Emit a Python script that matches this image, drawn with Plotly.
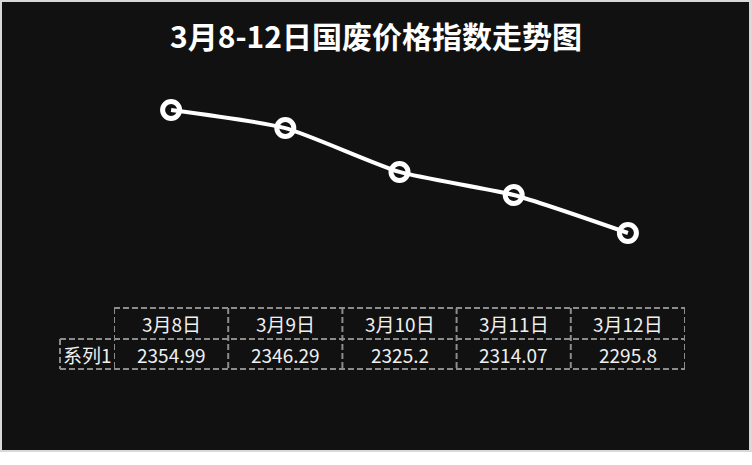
import plotly.graph_objects as go

# ---- data ----
categories = ["3月8日", "3月9日", "3月10日", "3月11日", "3月12日"]
series_name = "系列1"
values = [2354.99, 2346.29, 2325.2, 2314.07, 2295.8]
value_labels = ["2354.99", "2346.29", "2325.2", "2314.07", "2295.8"]
title_text = "3月8-12日国废价格指数走势图"

W, H = 752, 465
FONT = "Noto Sans CJK SC, Microsoft YaHei, sans-serif"

def px_x(p):
    return p / W

def px_y(p):
    return 1 - p / H

fig = go.Figure()
fig.add_trace(go.Scatter(
    x=categories, y=values, mode="lines+markers",
    line=dict(color="white", width=4, shape="spline", smoothing=0.6),
    marker=dict(symbol="circle-open", size=17, line=dict(color="white", width=5)),
    name=series_name, hoverinfo="skip", cliponaxis=False,
))

shapes = [
    dict(type="rect", xref="paper", yref="paper", x0=0, x1=1, y0=px_y(452), y1=1,
         fillcolor="#d9d9d9", line=dict(width=0), layer="below"),
    dict(type="rect", xref="paper", yref="paper", x0=px_x(2), x1=px_x(749), y0=px_y(450), y1=px_y(2),
         fillcolor="#111111", line=dict(width=0), layer="below"),
]

grid = dict(color="#8c8c8c", width=2, dash="6px,3px")
t_top, t_mid, t_bot = 308, 339, 369
n = len(categories)
# horizontal lines
shapes.append(dict(type="line", xref="x", yref="paper", x0=-0.5, x1=n - 0.5,
                   y0=px_y(t_top), y1=px_y(t_top), line=grid))
for yy in (t_mid, t_bot):
    shapes.append(dict(type="line", xref="paper", yref="paper", x0=px_x(60), x1=px_x(685),
                       y0=px_y(yy), y1=px_y(yy), line=grid))
# vertical lines
for i in range(n + 1):
    shapes.append(dict(type="line", xref="x", yref="paper", x0=i - 0.5, x1=i - 0.5,
                       y0=px_y(t_top), y1=px_y(t_bot), line=grid))
shapes.append(dict(type="line", xref="paper", yref="paper", x0=px_x(60), x1=px_x(60),
                   y0=px_y(t_mid), y1=px_y(t_bot), line=grid))

annotations = []
tfont = dict(family=FONT, size=19, color="#f0f0f0")
for i, c in enumerate(categories):
    annotations.append(dict(x=c, xref="x", y=px_y((t_top + t_mid) / 2), yref="paper",
                            text=c, showarrow=False, font=tfont, xanchor="center", yanchor="middle"))
    annotations.append(dict(x=c, xref="x", y=px_y((t_mid + t_bot) / 2), yref="paper",
                            text=value_labels[i], showarrow=False, font=tfont,
                            xanchor="center", yanchor="middle"))
annotations.append(dict(x=px_x(87), xref="paper", y=px_y((t_mid + t_bot) / 2), yref="paper",
                        text=series_name, showarrow=False, font=tfont,
                        xanchor="center", yanchor="middle"))

# y axis range chosen so plotting area maps to pixel band 80..290
y_top_px, y_bot_px = 80, 290
scale = (233 - 110) / (values[0] - values[-1])
y_hi = values[0] + (110 - y_top_px) / scale
y_lo = values[0] - (y_bot_px - 110) / scale

fig.update_layout(
    width=W, height=H,
    margin=dict(l=0, r=0, t=0, b=0),
    paper_bgcolor="white", plot_bgcolor="rgba(0,0,0,0)",
    showlegend=False,
    title=dict(text="<b>" + title_text + "</b>", x=0.5, xanchor="center",
               y=px_y(37), yanchor="middle", yref="container",
               font=dict(family=FONT, size=30, color="white")),
    xaxis=dict(domain=[px_x(114), px_x(685)], range=[-0.5, n - 0.5],
               showgrid=False, zeroline=False, showticklabels=False, showline=False,
               type="category", fixedrange=True),
    yaxis=dict(domain=[px_y(y_bot_px), px_y(y_top_px)], range=[y_lo, y_hi],
               showgrid=False, zeroline=False, showticklabels=False, showline=False,
               fixedrange=True),
    shapes=shapes, annotations=annotations,
)

fig.write_html("out.html", config={"displayModeBar": False},
               post_script="document.body.style.margin='0';document.body.style.padding='0';")
